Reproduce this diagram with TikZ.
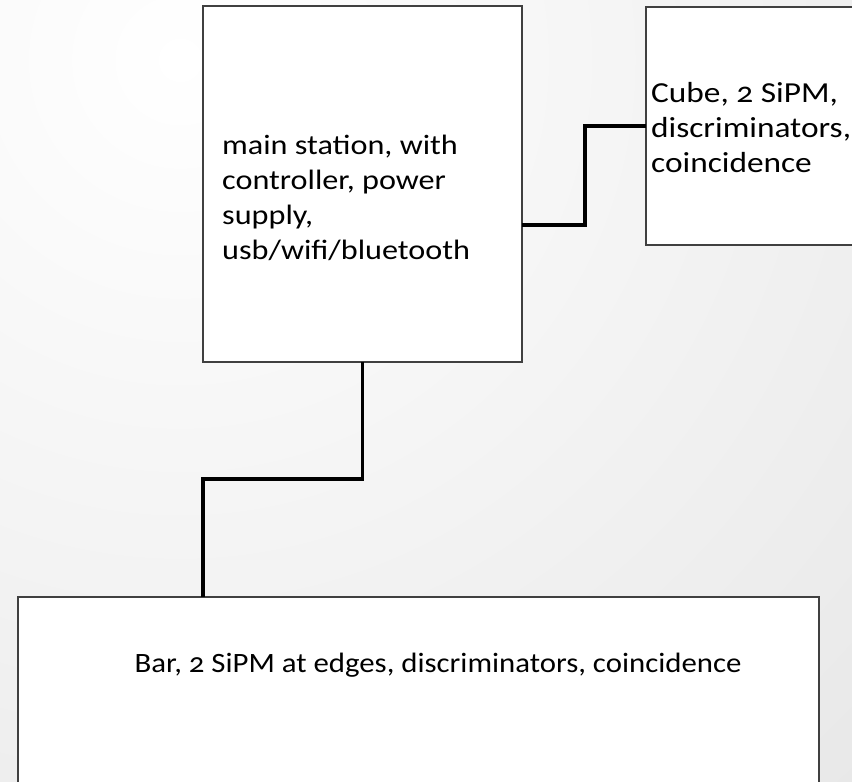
\documentclass[tikz,border=0pt]{standalone}
\usepackage{fontspec}
\setmainfont{Carlito}[Numbers=OldStyle, FakeStretch=1.15]
\newfontfamily\barfont{Carlito}[Numbers=OldStyle, FakeStretch=1.1]
\usepackage{tikz}
\usetikzlibrary{positioning,calc}

\definecolor{boxline}{HTML}{404040}
\definecolor{bgout}{HTML}{D2D2D2}

\tikzset{
    box/.style={draw=boxline, line width=1.5pt, fill=white, inner sep=0pt, outer sep=0pt},
    wire/.style={line width=3.5pt, black},
    boxtext/.style={font=\fontsize{28}{35}\selectfont, align=left, anchor=west, inner sep=0pt}
}

\begin{document}
\begin{tikzpicture}[x=1pt, y=-1pt]
    \useasboundingbox (0,0) rectangle (852,782);
    \clip (0,0) rectangle (852,782);

    % achtergrond
    \shade[inner color=white, outer color=bgout] (180,60) circle (1950);

    % blokken
    \node[box, minimum width=319pt, minimum height=356pt] (main) at (362.5,184) {};
    \node[box, minimum width=230pt, minimum height=238pt] (cube) at (761,126) {};
    \node[box, minimum width=801pt, minimum height=206pt] (bar) at (418.5,700) {};

    % teksten
    \node[boxtext] (maintext) at (222,198) {main station, with\\controller, power\\supply,\\usb/wifi/bluetooth};
    \node[boxtext, font=\fontsize{29}{35}\selectfont] (cubetext) at (651,128) {Cube, 2 SiPM,\\discriminators,\\coincidence};
    \node[boxtext, anchor=center, font=\fontsize{28}{35}\barfont] (bartext) at (438,665) {Bar, 2 SiPM at edges, discriminators, coincidence};

    % verbindingen
    \draw[wire] (main.east |- 0,225) -- ++(63,0) |- (cube.west);
    \draw[wire] (main.south) |- (203,479) -- (bar.north -| 203,0);
\end{tikzpicture}
\end{document}
